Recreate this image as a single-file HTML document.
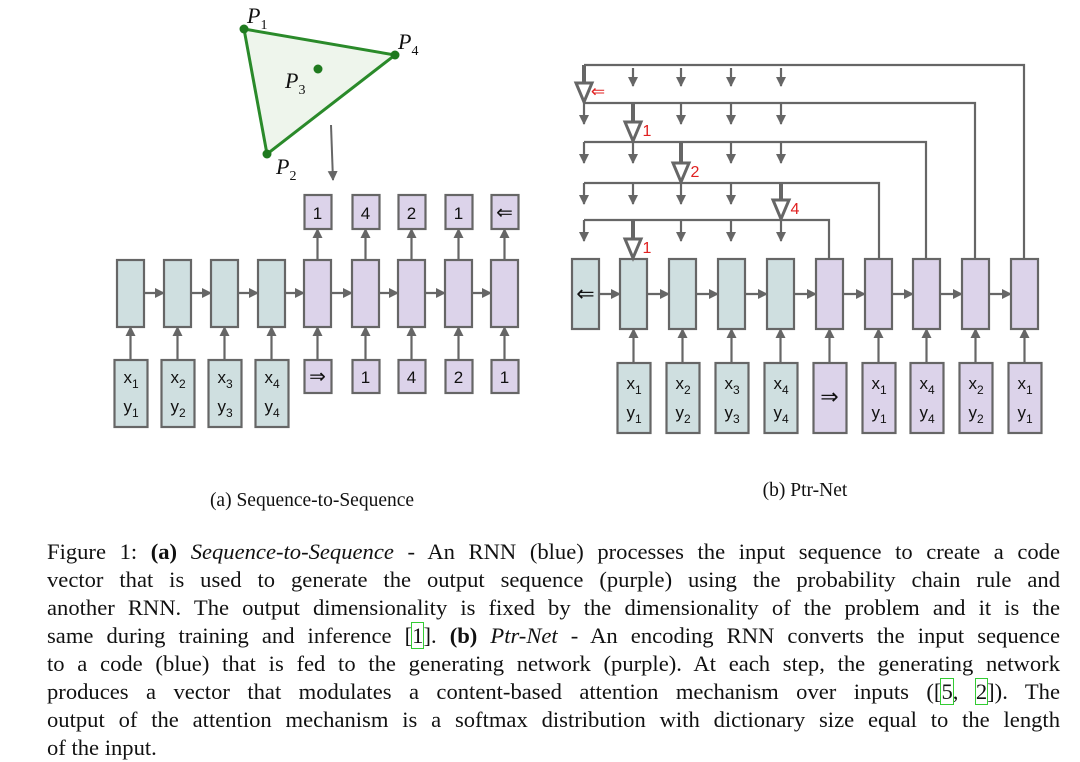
<!DOCTYPE html>
<html><head><meta charset="utf-8"><style>
body{margin:0;background:#fff;width:1080px;height:762px;overflow:hidden;position:relative}
svg{position:absolute;left:0;top:0}
.cap{position:absolute;left:47px;width:1013px;font-family:"Liberation Serif",serif;font-size:22.6px;line-height:28px;top:538px;color:#111}
.cap div{text-align:justify;text-align-last:justify;white-space:nowrap;height:28px}
.cap div.l{text-align-last:left}
.g{outline:1.5px solid #3c3;}
</style></head><body>
<svg width="1080" height="762" xmlns="http://www.w3.org/2000/svg" font-family="Liberation Sans, sans-serif">
<defs><marker id="a" markerWidth="10" markerHeight="10" refX="9" refY="5" orient="auto" markerUnits="userSpaceOnUse"><path d="M0,0 L10,5 L0,10z" fill="#666"/></marker></defs>
<polygon points="244,29 395,55 267,154" fill="#eef5ec" stroke="#2a8a2a" stroke-width="3"/>
<circle cx="244" cy="29" r="4.5" fill="#1f7a1f"/><circle cx="395" cy="55" r="4.5" fill="#1f7a1f"/><circle cx="267" cy="154" r="4.5" fill="#1f7a1f"/><circle cx="318" cy="69" r="4.5" fill="#1f7a1f"/>
<g font-family="Liberation Serif, serif" font-style="italic" font-size="22" fill="#111">
<text x="247" y="23">P<tspan font-size="14" dy="6" font-style="normal">1</tspan></text>
<text x="398" y="49">P<tspan font-size="14" dy="6" font-style="normal">4</tspan></text>
<text x="285" y="88">P<tspan font-size="14" dy="6" font-style="normal">3</tspan></text>
<text x="276" y="174">P<tspan font-size="14" dy="6" font-style="normal">2</tspan></text></g>
<line x1="331" y1="125" x2="333" y2="180" stroke="#666" stroke-width="2" marker-end="url(#a)"/>
<g id="left" stroke="#666" stroke-width="2.2"></g>
<g id="right" stroke="#666" stroke-width="2.2"></g>
<g font-family="Liberation Serif, serif" font-size="19.5" fill="#111">
<text x="312" y="506" text-anchor="middle">(a) Sequence-to-Sequence</text>
<text x="805" y="496" text-anchor="middle">(b) Ptr-Net</text></g>
</svg>
<script>
const NS="http://www.w3.org/2000/svg";
function el(p,t,a,txt){const e=document.createElementNS(NS,t);for(const k in a)e.setAttribute(k,a[k]);if(txt!==undefined)e.innerHTML=txt;p.appendChild(e);return e;}
const B="#cfdfe0",P="#dcd3ea";
const L=document.getElementById('left');
function xy(p,cx,y,xi,yi){el(p,'text',{x:cx-7,y:y+23,'font-size':17,fill:'#111',stroke:'none'},'x<tspan font-size="12" dy="5">'+xi+'</tspan>');el(p,'text',{x:cx-7,y:y+52,'font-size':17,fill:'#111',stroke:'none'},'y<tspan font-size="12" dy="5">'+yi+'</tspan>');}
function t(p,cx,cy,s,sz,c){el(p,'text',{x:cx,y:cy,'font-size':sz||17,fill:c||'#111',stroke:'none','text-anchor':'middle'},s);}
const lx=[117,164,211,258,304,352,398,445,491];
lx.forEach((x,i)=>{const cx=x+13.5,col=i<4?B:P;
 el(L,'rect',{x:x,y:260,width:27,height:67,fill:col});
 if(i<8)el(L,'line',{x1:x+27,y1:293,x2:lx[i+1],y2:293,'marker-end':'url(#a)'});
 if(i<4){el(L,'rect',{x:cx-16,y:360,width:33,height:67,fill:B});xy(L,cx,360,i+1,i+1);}
 else{el(L,'rect',{x:cx-13,y:360,width:27,height:33,fill:P});t(L,cx,383,['⇒','1','4','2','1'][i-4],i==4?20:17);
  el(L,'rect',{x:cx-13,y:195,width:27,height:34,fill:P});t(L,cx,219,['1','4','2','1','⇐'][i-4],i==8?20:17);
  el(L,'line',{x1:cx,y1:260,x2:cx,y2:229,'marker-end':'url(#a)'});}
 el(L,'line',{x1:cx,y1:360,x2:cx,y2:327,'marker-end':'url(#a)'});
});
const R=document.getElementById('right');
const rx=[572,620,669,718,767,816,865,913,962,1011];
const ins=[null,[1,1],[2,2],[3,3],[4,4],'⇒',[1,1],[4,4],[2,2],[1,1]];
rx.forEach((x,i)=>{const cx=x+13.5,col=i<5?B:P;
 el(R,'rect',{x:x,y:259,width:27,height:70,fill:col});
 if(i<9)el(R,'line',{x1:x+27,y1:294,x2:rx[i+1],y2:294,'marker-end':'url(#a)'});
 if(i==0)t(R,cx,301,'⇐',22);
 else{el(R,'rect',{x:cx-16,y:363,width:33,height:70,fill:i<5?B:P});
  if(i==5)t(R,cx,404,'⇒',22);else xy(R,cx,366,ins[i][0],ins[i][1]);
  el(R,'line',{x1:cx,y1:363,x2:cx,y2:329,'marker-end':'url(#a)'});}
});
const ac=[584,633,681,731,781],rows=[65,103,142,183,220],ends=[1024,975,926,879,829],big=[0,1,2,4,1],lab=['⇐','1','2','4','1'];
rows.forEach((y,r)=>{
 el(R,'polyline',{points:`${ac[0]},${y} ${ends[r]},${y} ${ends[r]},259`,fill:'none'});
 const yEnd=r<4?rows[r+1]:259;
 ac.forEach((cx,c)=>{
  if(c==big[r]){el(R,'line',{x1:cx,y1:y,x2:cx,y2:yEnd-18,'stroke-width':4});
   el(R,'polygon',{points:`${cx-8},${yEnd-20} ${cx+8},${yEnd-20} ${cx},${yEnd-1}`,fill:'#fff','stroke-width':3});
   t(R,cx+14,yEnd-6,lab[r],r==0?17:16,'#e02020');}
  else el(R,'line',{x1:cx,y1:y+(r==0?3:0),x2:cx,y2:y+21,'marker-end':'url(#a)'});
 });
});
</script>
<div class="cap">
<div>Figure 1: <b>(a)</b> <i>Sequence-to-Sequence</i> - An RNN (blue) processes the input sequence to create a code</div>
<div>vector that is used to generate the output sequence (purple) using the probability chain rule and</div>
<div>another RNN. The output dimensionality is fixed by the dimensionality of the problem and it is the</div>
<div>same during training and inference [<span class="g">1</span>]. <b>(b)</b> <i>Ptr-Net</i> - An encoding RNN converts the input sequence</div>
<div>to a code (blue) that is fed to the generating network (purple). At each step, the generating network</div>
<div>produces a vector that modulates a content-based attention mechanism over inputs ([<span class="g">5</span>, <span class="g">2</span>]). The</div>
<div>output of the attention mechanism is a softmax distribution with dictionary size equal to the length</div>
<div class="l">of the input.</div>
</div>
</body></html>
